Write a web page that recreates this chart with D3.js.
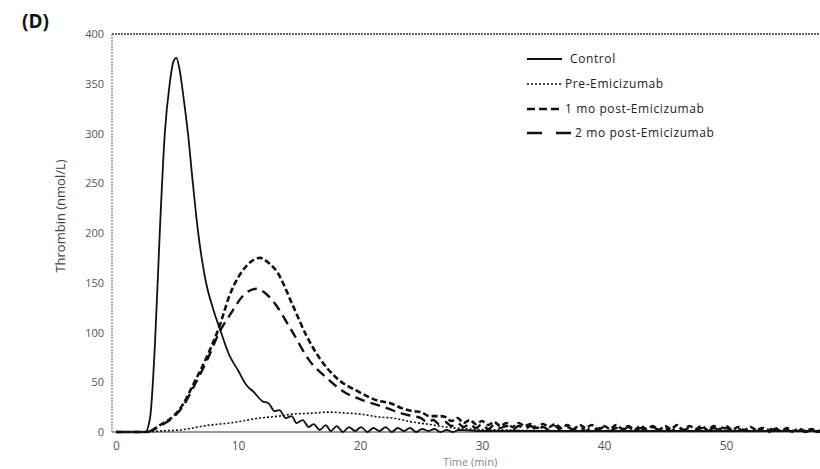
<!DOCTYPE html>
<html><head><meta charset="utf-8">
<script src="https://cdn.jsdelivr.net/npm/d3@7"></script>
<style>body{margin:0;background:#fff}svg{display:block}</style>
</head><body>
<svg id="c" width="820" height="469"></svg>
<script>
// ---- data ----
const xTicks = [0,10,20,30,40,50];
const yTicks = [0,50,100,150,200,250,300,350,400];
const seriesNames = ["Control","Pre-Emicizumab","1 mo post-Emicizumab","2 mo post-Emicizumab"];

const controlT = [0,1,2,2.4,2.8,3.2,3.6,4.0,4.4,4.7,4.95,5.2,5.6,5.9,6.3,6.7,7.3,8.0,8.5,9.3,10,10.7,11.3,12,12.5,13,13.4,13.9,14.4,14.8,15.3,15.8,16.2,16.7,17.2,17.6,18.1,18.6,19.1,19.6,20.1,20.6,21.1,21.6,22.1,22.6,23.1,23.6,24.1,24.6,25.1,25.6,26.1,26.6,27.1,27.6,28.1,30,33,36,40,44,48,52,56,58];
const controlV = [0,0,0,0,15,90,204,300,350,372,376,365,330,300,250,204,155,122,104,77,62,47,40,31,29,21,22,14,16,9,12,5,8,2,7,1,6,0,5,1,5,0,4,1,5,0,4,1,4,0,3,1,3,0,2,0,2,1,1,1,1,1,1,1,1,1];

const preT = [0,2.5,3.6,5.2,7.7,9.3,11.8,13.4,14.5,16.2,17.3,18.9,20,21.6,22.7,24.3,25.5,27,29,32,36,40,48,58];
const preV = [0,0,1,2,7,9,14,16,18,19,20,19,18,15,14,10,8,5,3,2,1,1,1,1];

const mo1T = [0,2.5,3.6,4.8,5.5,6.3,7.5,8.5,9.3,10.7,11.8,12.5,13.2,14.5,15.6,16.7,18.1,19.8,21.6,22.5,23.4,24.3,25,25.7,26.6,27,27.5,28,28.5,29,29.5,30,30.5,31,31.5,32,32.5,33,33.5,34,34.5,35,35.5,36,36.5,37,37.5,38,38.5,39,39.5,40,40.5,41,41.5,42,42.5,43,43.5,44,44.5,45,45.5,46,46.5,47,47.5,48,48.5,49,49.5,50,50.5,51,51.5,52,52.5,53,53.5,54,54.5,55,55.5,56,56.5,57,57.5,58];
const mo1V = [0,0,7,17,28,47,77,107,137,167,175,170,161,127,97,74,54,41,31,29,24,21,20,16,16,15,11,14,9,12,8,11,7,10,6,9,5,9,6,8,4,8,5,8,4,7,3,7,4,7,3,6,3,7,3,6,2,6,3,6,2,6,3,7,2,6,3,6,2,6,3,6,2,5,2,5,2,4,2,4,1,4,1,3,1,3,1,3];

const mo2T = [0,2.5,3.6,4.8,5.5,6.3,7.5,8.5,9.3,10.5,11.5,12.2,12.9,14.3,15.9,17.3,18.6,20.2,21.2,22.2,23.3,24.3,25,25.5,26,26.5,27,27.5,28,28.5,29,29.5,30,30.5,31,31.5,32,32.5,33,33.5,34,34.5,35,35.5,36,36.5,37,37.5,38,38.5,39,39.5,40,40.5,41,41.5,42,42.5,43,43.5,44,44.5,45,45.5,46,46.5,47,47.5,48,48.5,49,49.5,50,50.5,51,51.5,52,52.5,53,53.5,54,54.5,55,55.5,56,56.5,57,57.5,58];
const mo2V = [0,0,6,16,26,44,73,101,117,138,144,140,131,104,71,54,41,32,28,24,19,16,14,10,12,8,10,6,9,5,8,4,8,3,7,4,6,2,6,3,6,2,5,2,6,1,5,2,5,1,5,2,5,1,4,2,5,1,4,1,5,2,4,1,5,2,4,1,4,1,4,2,4,1,3,1,3,1,3,0,3,1,2,0,2,0,2,0,2];

// ---- drawing ----
const svg = d3.select("#c");
const x = d3.scaleLinear().domain([0,58]).range([116, 116 + 58*12.2]);
const y = d3.scaleLinear().domain([0,400]).range([432,34]);
const font = "'Open Sans', Lato, sans-serif";

// frame
svg.append("line").attr("x1",112).attr("x2",820).attr("y1",y(400)).attr("y2",y(400))
  .attr("stroke","#333").attr("stroke-width",1.3).attr("stroke-dasharray","2,1");
svg.append("line").attr("x1",112).attr("x2",112).attr("y1",y(400)).attr("y2",y(0))
  .attr("stroke","#888").attr("stroke-width",1.3).attr("stroke-dasharray","2,1");
svg.append("line").attr("x1",112).attr("x2",820).attr("y1",y(0)).attr("y2",y(0))
  .attr("stroke","#9a9a9a").attr("stroke-width",2);

// axes
const yAxis = d3.axisLeft(y).tickValues(yTicks).tickSize(0).tickPadding(0);
const gy = svg.append("g").attr("transform","translate(104,0)").call(yAxis);
gy.select(".domain").remove();
gy.selectAll("text").attr("font-family",font).attr("font-size",11).attr("fill","#555");

const xAxis = d3.axisBottom(x).tickValues(xTicks).tickSize(0).tickPadding(0);
const gx = svg.append("g").attr("transform","translate(0,441)").call(xAxis);
gx.select(".domain").remove();
gx.selectAll("text").attr("font-family",font).attr("font-size",12).attr("fill","#555");

// labels
svg.append("text").attr("x",22).attr("y",28).text("(D)")
  .attr("font-family",font).attr("font-weight","bold").attr("font-size",19).attr("fill","#111");
svg.append("text").attr("transform","translate(65,216) rotate(-90)").attr("text-anchor","middle")
  .text("Thrombin (nmol/L)").attr("font-family",font).attr("font-size",13).attr("fill","#444");
svg.append("text").attr("x",470).attr("y",466).attr("text-anchor","middle")
  .text("Time (min)").attr("font-family",font).attr("font-size",11).attr("fill","#888");

// lines
const styles = [
  {w:1.8, dash:null, ldash:null, lx2:562, tx:570},
  {w:1.6, dash:"2,2", ldash:"2,2", lx2:562, tx:565},
  {w:2.6, dash:"6,3", ldash:"8,4", lx2:563, tx:565},
  {w:2.4, dash:"10,6", ldash:"15,14", lx2:571, tx:575}
];
const data = [
  d3.zip(controlT, controlV),
  d3.zip(preT, preV),
  d3.zip(mo1T, mo1V),
  d3.zip(mo2T, mo2V)
];
const line = d3.line().x(d=>x(d[0])).y(d=>y(d[1])).curve(d3.curveMonotoneX);
svg.append("clipPath").attr("id","clip").append("rect").attr("x",112).attr("y",30).attr("width",710).attr("height",410);
const gl = svg.append("g").attr("clip-path","url(#clip)");
[1,3,2,0].forEach(i=>{
  gl.append("path").datum(data[i]).attr("d",line).attr("fill","none")
    .attr("stroke","#111").attr("stroke-width",styles[i].w)
    .attr("stroke-dasharray",styles[i].dash).attr("stroke-linejoin","round");
});

// legend
const legY = [59,84,109,133];
seriesNames.forEach((n,i)=>{
  svg.append("line").attr("x1",527).attr("x2",styles[i].lx2).attr("y1",legY[i]).attr("y2",legY[i])
    .attr("stroke","#111").attr("stroke-width",styles[i].w).attr("stroke-dasharray",styles[i].ldash);
  svg.append("text").attr("x",styles[i].tx).attr("y",legY[i]+4).text(n)
    .attr("font-family",font).attr("font-size",12).attr("letter-spacing",0.6).attr("fill","#222");
});
</script>
</body></html>
